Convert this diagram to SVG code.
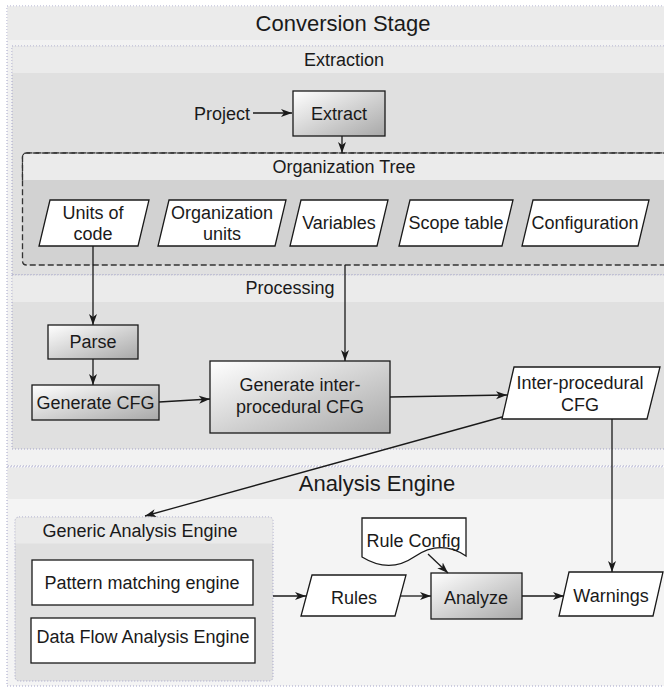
<svg xmlns="http://www.w3.org/2000/svg" width="664" height="689" viewBox="0 0 664 689">
<style>
text{font-family:"Liberation Sans",Arial,sans-serif;fill:#1a1a1a;text-anchor:middle}
.t18{font-size:18px}
.t22{font-size:22px}
.cont{stroke:#a2a2c8;stroke-width:1;stroke-dasharray:1 2}
.node{stroke:#1a1a1a;stroke-width:1.3}
.white{fill:#ffffff}
.grad{fill:url(#g)}
.conn path{fill:none;stroke:#1a1a1a;stroke-width:1.3}
</style>
<defs>
<linearGradient id="g" x1="0" y1="0" x2="1" y2="1">
<stop offset="0" stop-color="#ffffff"/>
<stop offset="1" stop-color="#a8a8a8"/>
</linearGradient>
<marker id="arr" markerWidth="12" markerHeight="10" refX="11" refY="5" orient="auto" markerUnits="userSpaceOnUse">
<path d="M0,1 L11,5 L0,9 L3,5 Z" fill="#1a1a1a"/>
</marker>
</defs>
<rect width="664" height="689" fill="#ffffff"/>

<g id="conversion-stage">
<rect x="7" y="6" width="680" height="460" fill="#f2f2f2" class="cont"/>
<rect x="7.5" y="6.5" width="680" height="33.5" fill="#ebebeb"/>
<text class="t22" x="343" y="31">Conversion Stage</text>
</g>

<g id="extraction">
<rect x="12" y="46" width="680" height="229" fill="#e0e0e0" class="cont"/>
<rect x="12.5" y="46.5" width="680" height="26.5" fill="#ebebeb"/>
<text class="t18" x="344" y="66">Extraction</text>
</g>

<g id="processing">
<rect x="12" y="275" width="680" height="174" fill="#e0e0e0" class="cont"/>
<rect x="12.5" y="275.5" width="680" height="26.5" fill="#ebebeb"/>
<text class="t18" x="290" y="294">Processing</text>
</g>

<g id="analysis-engine">
<rect x="7" y="467" width="680" height="219" fill="#f4f4f4" class="cont"/>
<rect x="7.5" y="467.5" width="680" height="31.5" fill="#eaeaea"/>
<text class="t22" x="377" y="491">Analysis Engine</text>
</g>

<g id="project">
<text class="t18" x="222" y="120">Project</text>
</g>

<g id="extract">
<rect x="293" y="91" width="92" height="45" class="node grad"/>
<text class="t18" x="339" y="120">Extract</text>
</g>

<g id="organization-tree">
<rect x="22.5" y="153" width="670" height="112" rx="4" fill="#d2d2d2" stroke="#333333" stroke-width="1.3" stroke-dasharray="6 3"/>
<path d="M23.2,175 V157 Q23.2,153.7 27,153.7 H690 V180 H23.2 Z" fill="#ebebeb"/>
<path d="M22.5,180 V157 Q22.5,153 26.5,153 H692" fill="none" stroke="#333333" stroke-width="1.3" stroke-dasharray="6 3"/>
<text class="t18" x="344" y="173">Organization Tree</text>
</g>

<g id="units-of-code">
<polygon points="50,200 149,200 138,246 39,246" class="node white"/>
<text class="t18" x="93" y="219">Units of</text>
<text class="t18" x="93" y="240">code</text>
</g>

<g id="organization-units">
<polygon points="169,200 286,200 275,246 158,246" class="node white"/>
<text class="t18" x="222" y="219">Organization</text>
<text class="t18" x="222" y="240">units</text>
</g>

<g id="variables">
<polygon points="301,200 388,200 377,246 290,246" class="node white"/>
<text class="t18" x="339" y="229">Variables</text>
</g>

<g id="scope-table">
<polygon points="410,200 513,200 502,246 399,246" class="node white"/>
<text class="t18" x="456" y="229">Scope table</text>
</g>

<g id="configuration">
<polygon points="533,200 649,200 638,246 522,246" class="node white"/>
<text class="t18" x="585" y="229">Configuration</text>
</g>

<g id="parse">
<rect x="48" y="325" width="90" height="34" class="node grad"/>
<text class="t18" x="93" y="348">Parse</text>
</g>

<g id="generate-cfg">
<rect x="32" y="385" width="127" height="35" class="node grad"/>
<text class="t18" x="95.5" y="409">Generate CFG</text>
</g>

<g id="generate-inter-procedural-cfg">
<rect x="210" y="361" width="180" height="72" class="node grad"/>
<text class="t18" x="300" y="391">Generate inter-</text>
<text class="t18" x="300" y="413">procedural CFG</text>
</g>

<g id="inter-procedural-cfg">
<polygon points="514,367 660,367 647,419 502,419" class="node white"/>
<text class="t18" x="580" y="389">Inter-procedural</text>
<text class="t18" x="580" y="411">CFG</text>
</g>

<g id="generic-analysis-engine">
<rect x="15" y="517" width="258" height="164" rx="4" fill="#e0e0e0" class="cont"/>
<path d="M15.5,543.5 V521 Q15.5,517.5 19,517.5 H269 Q272.5,517.5 272.5,521 V543.5 Z" fill="#eaeaea"/>
<text class="t18" x="140" y="537">Generic Analysis Engine</text>
</g>

<g id="pattern-matching-engine">
<rect x="32" y="560" width="221" height="45" class="node white"/>
<text class="t18" x="142" y="589">Pattern matching engine</text>
</g>

<g id="data-flow-analysis-engine">
<rect x="31" y="618" width="224" height="45" class="node white"/>
<text class="t18" x="143" y="643">Data Flow Analysis Engine</text>
</g>

<g id="rule-config">
<path d="M362,518 H466 V556 C448,544 430,546 414,557 C398,568 380,568 362,557 Z" class="node white"/>
<text class="t18" x="413.5" y="547">Rule Config</text>
</g>

<g id="rules">
<polygon points="312,575 406,575 395,616 301,616" class="node white"/>
<text class="t18" x="354" y="604">Rules</text>
</g>

<g id="analyze">
<rect x="431" y="573" width="91" height="46" class="node grad"/>
<text class="t18" x="476" y="604">Analyze</text>
</g>

<g id="warnings">
<polygon points="569,572 663,572 653,616 559,616" class="node white"/>
<text class="t18" x="611" y="602">Warnings</text>
</g>

<g id="connectors" class="conn">
<path d="M253,113 L292,113" marker-end="url(#arr)"/>
<path d="M342,136 L342,153" marker-end="url(#arr)"/>
<path d="M93,246 L93,325" marker-end="url(#arr)"/>
<path d="M93,359 L93,385" marker-end="url(#arr)"/>
<path d="M159,402 L210,399" marker-end="url(#arr)"/>
<path d="M345,265 L345,361" marker-end="url(#arr)"/>
<path d="M390,397 L507,395" marker-end="url(#arr)"/>
<path d="M502,417 L145,516" marker-end="url(#arr)"/>
<path d="M612,419 L612,572" marker-end="url(#arr)"/>
<path d="M273,596 L306,596" marker-end="url(#arr)"/>
<path d="M400,596 L431,596" marker-end="url(#arr)"/>
<path d="M522,596 L564,596" marker-end="url(#arr)"/>
<path d="M428,554 L448,573" marker-end="url(#arr)"/>
</g>
</svg>
